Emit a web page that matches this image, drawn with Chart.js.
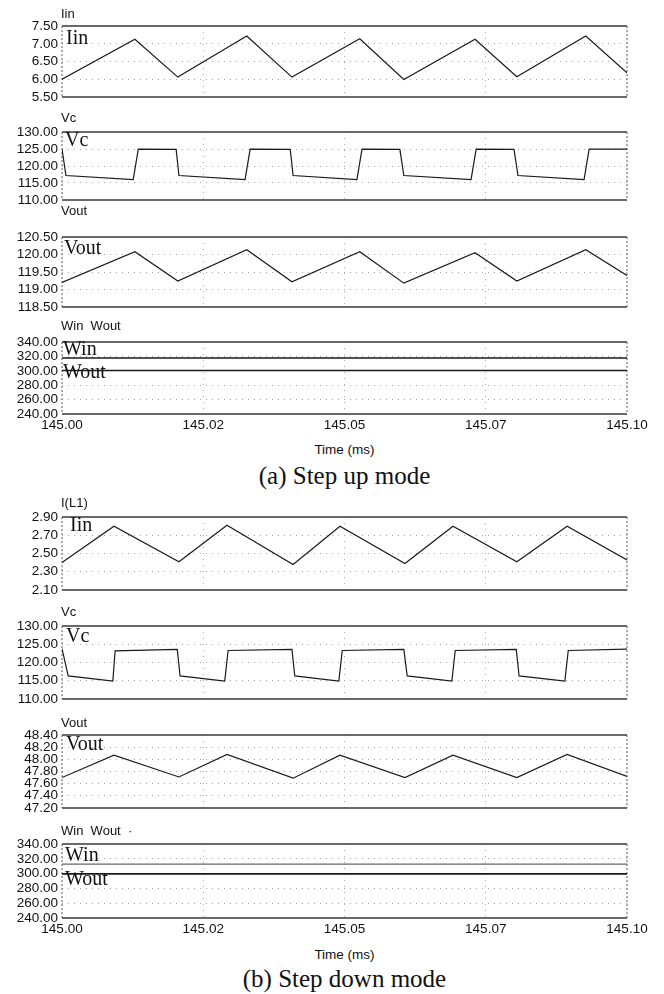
<!DOCTYPE html>
<html>
<head>
<meta charset="utf-8">
<script src="https://cdn.jsdelivr.net/npm/chart.js@4"></script>
<style>
  body { margin: 0; background: #fff; }
  #page { position: relative; width: 664px; height: 994px; overflow: hidden; }
  canvas { position: absolute; left: 0; }
  .name { position: absolute; left: 61px; font: 13px "Liberation Sans", Arial, sans-serif; line-height: 1; color: #111; white-space: pre; }
  .inner { position: absolute; font: 20px "Liberation Serif", "Times New Roman", serif; line-height: 1; color: #111; }
  .time { position: absolute; left: 62px; width: 565px; text-align: center; font: 13.5px "Liberation Sans", Arial, sans-serif; line-height: 1; color: #111; }
  .caption { position: absolute; left: 62px; width: 565px; text-align: center; font: 25px "Liberation Serif", "Times New Roman", serif; line-height: 1; color: #111; }
</style>
</head>
<body>
<div id="page">
  <canvas id="upIinChart"></canvas>
  <canvas id="upVcChart"></canvas>
  <canvas id="upVoutChart"></canvas>
  <canvas id="upPowerChart"></canvas>
  <canvas id="downIinChart"></canvas>
  <canvas id="downVcChart"></canvas>
  <canvas id="downVoutChart"></canvas>
  <canvas id="downPowerChart"></canvas>

  <div class="name" style="top:7px">Iin</div>
  <div class="name" style="top:111px">Vc</div>
  <div class="name" style="top:204px">Vout</div>
  <div class="name" style="top:319px">Win  Wout</div>
  <div class="inner" style="left:66px;top:27px">Iin</div>
  <div class="inner" style="left:65px;top:129px">Vc</div>
  <div class="inner" style="left:64px;top:237px">Vout</div>
  <div class="inner" style="left:63px;top:338px">Win</div>
  <div class="inner" style="left:63px;top:361px">Wout</div>
  <div class="time" style="top:443px">Time (ms)</div>
  <div class="caption" style="top:463px">(a) Step up mode</div>

  <div class="name" style="top:496px">I(L1)</div>
  <div class="name" style="top:605px">Vc</div>
  <div class="name" style="top:716px">Vout</div>
  <div class="name" style="top:824px">Win  Wout  ·</div>
  <div class="inner" style="left:70px;top:514px">Iin</div>
  <div class="inner" style="left:66px;top:625px">Vc</div>
  <div class="inner" style="left:66px;top:733px">Vout</div>
  <div class="inner" style="left:65px;top:844px">Win</div>
  <div class="inner" style="left:65px;top:868px">Wout</div>
  <div class="time" style="top:948px">Time (ms)</div>
  <div class="caption" style="top:966px">(b) Step down mode</div>
</div>

<script>
// x axis
const timeTicks = [145.0, 145.025, 145.05, 145.075, 145.1];
const timeTickLabels = ["145.00", "145.02", "145.05", "145.07", "145.10"];

// y axis ticks
const iinUpTicks = [5.5, 6.0, 6.5, 7.0, 7.5];
const vcTicks = [110, 115, 120, 125, 130];
const voutUpTicks = [118.5, 119.0, 119.5, 120.0, 120.5];
const powerTicks = [240, 260, 280, 300, 320, 340];
const iinDownTicks = [2.1, 2.3, 2.5, 2.7, 2.9];
const voutDownTicks = [47.2, 47.4, 47.6, 47.8, 48.0, 48.2, 48.4];

// (a) step up mode
const upRampTime = [145.0, 145.0129, 145.0205, 145.0327, 145.0407, 145.0527, 145.0605, 145.0731, 145.0805, 145.0927, 145.1];
const upIin = [6.00, 7.13, 6.06, 7.22, 6.06, 7.14, 5.99, 7.13, 6.07, 7.22, 6.18];
const upVout = [119.20, 120.08, 119.24, 120.14, 119.22, 120.08, 119.18, 120.05, 119.24, 120.14, 119.40];
const upVcTime = [145.0, 145.0007, 145.0126, 145.0135, 145.0202, 145.0207, 145.0324, 145.0333, 145.0404, 145.0409,
  145.0522, 145.0531, 145.0598, 145.0605, 145.0724, 145.0733, 145.08, 145.0807, 145.0924, 145.0933, 145.1];
const upVc = [125.0, 117.2, 116.0, 125.0, 124.9, 117.2, 116.0, 125.0, 124.9, 117.2,
  116.0, 125.0, 124.9, 117.2, 116.0, 125.0, 124.9, 117.2, 116.0, 125.0, 125.0];
const upPowerTime = [145.0, 145.1];
const upWin = [318, 318];
const upWout = [300.5, 300.5];

// (b) step down mode
const downRampTime = [145.0, 145.0092, 145.0207, 145.0292, 145.0409, 145.0492, 145.0607, 145.0692, 145.0805, 145.0894, 145.1];
const downIin = [2.40, 2.80, 2.41, 2.81, 2.38, 2.80, 2.39, 2.80, 2.41, 2.80, 2.43];
const downVout = [47.70, 48.07, 47.71, 48.08, 47.69, 48.07, 47.70, 48.07, 47.70, 48.08, 47.72];
const downVcTime = [145.0, 145.0011, 145.009, 145.0094, 145.0204, 145.0209, 145.0288, 145.0294, 145.0407, 145.0412,
  145.049, 145.0496, 145.0605, 145.0611, 145.069, 145.0696, 145.0804, 145.0809, 145.089, 145.0896, 145.1];
const downVc = [123.8, 116.3, 114.9, 123.2, 123.6, 116.3, 114.9, 123.3, 123.6, 116.3,
  114.9, 123.3, 123.6, 116.3, 114.9, 123.3, 123.6, 116.3, 114.9, 123.3, 123.7];
const downPowerTime = [145.0, 145.1];
const downWin = [313, 313];
const downWout = [299.6, 299.6];

const PLOT_LEFT = 62;
const PLOT_RIGHT = 627;
const PAD = 10;
const X_AXIS_HEIGHT = 22;
const TICK_FONT = { family: "'Liberation Sans', Arial, sans-serif", size: 13.5 };

// panel frame: solid top/bottom, dotted sides
const framePlugin = {
  id: "frame",
  beforeDatasetsDraw(chart) {
    const { ctx, chartArea: a } = chart;
    ctx.save();
    ctx.strokeStyle = "#3a3a3a";
    ctx.lineWidth = 1.5;
    ctx.beginPath();
    ctx.moveTo(a.left, a.top);
    ctx.lineTo(a.right, a.top);
    ctx.moveTo(a.left, a.bottom);
    ctx.lineTo(a.right, a.bottom);
    ctx.stroke();
    ctx.lineWidth = 1;
    ctx.strokeStyle = "#555";
    ctx.setLineDash([2, 2]);
    ctx.beginPath();
    ctx.moveTo(a.left, a.top);
    ctx.lineTo(a.left, a.bottom);
    ctx.moveTo(a.right, a.top);
    ctx.lineTo(a.right, a.bottom);
    ctx.stroke();
    ctx.restore();
  },
};

const toPoints = (xs, ys) => xs.map((x, i) => ({ x, y: ys[i] }));

const makeSeries = (xs, ys, color = "#1a1a1a", width = 1.2) => ({
  data: toPoints(xs, ys),
  borderColor: color,
  borderWidth: width,
  pointRadius: 0,
  tension: 0,
  fill: false,
});

const innerGrid = (ticks) => (ctx) =>
  ctx.index === 0 || ctx.index === ticks.length - 1 ? "rgba(0,0,0,0)" : "#a8a8a8";

const makePanel = (id, top, bottom, datasets, yTicks, showTime) => {
  const canvas = document.getElementById(id);
  const height = bottom - top + PAD + (showTime ? X_AXIS_HEIGHT : PAD);
  canvas.width = 664;
  canvas.height = height;
  canvas.style.top = `${top - PAD}px`;

  return new Chart(canvas, {
    type: "line",
    data: { datasets },
    plugins: [framePlugin],
    options: {
      responsive: false,
      animation: false,
      devicePixelRatio: 1,
      layout: { padding: { top: PAD, bottom: showTime ? 0 : PAD, left: 0, right: 664 - PLOT_RIGHT } },
      plugins: { legend: { display: false }, tooltip: { enabled: false } },
      scales: {
        x: {
          type: "linear",
          min: timeTicks[0],
          max: timeTicks[timeTicks.length - 1],
          afterBuildTicks: (scale) => {
            scale.ticks = timeTicks.map((value) => ({ value }));
          },
          afterFit: (scale) => {
            scale.height = showTime ? X_AXIS_HEIGHT : 0;
          },
          ticks: {
            display: showTime,
            autoSkip: false,
            maxRotation: 0,
            padding: 3,
            color: "#111",
            font: TICK_FONT,
            callback: (value, index) => timeTickLabels[index],
          },
          grid: { drawTicks: false, color: innerGrid(timeTicks), lineWidth: 1 },
          border: { display: false, dash: [1, 5] },
        },
        y: {
          min: yTicks[0],
          max: yTicks[yTicks.length - 1],
          afterBuildTicks: (scale) => {
            scale.ticks = yTicks.map((value) => ({ value }));
          },
          afterFit: (scale) => {
            scale.width = PLOT_LEFT;
          },
          ticks: {
            autoSkip: false,
            padding: 4,
            color: "#111",
            font: TICK_FONT,
            callback: (value) => Number(value).toFixed(2),
          },
          grid: { drawTicks: false, color: innerGrid(yTicks), lineWidth: 1 },
          border: { display: false, dash: [1, 5] },
        },
      },
    },
  });
};

makePanel("upIinChart", 24, 99, [makeSeries(upRampTime, upIin)], iinUpTicks, false);
makePanel("upVcChart", 130, 202, [makeSeries(upVcTime, upVc)], vcTicks, false);
makePanel("upVoutChart", 235, 309, [makeSeries(upRampTime, upVout)], voutUpTicks, false);
makePanel("upPowerChart", 340, 414, [
  makeSeries(upPowerTime, upWin, "#1a1a1a", 1.5),
  makeSeries(upPowerTime, upWout, "#1a1a1a", 1.6),
], powerTicks, true);

makePanel("downIinChart", 515, 592, [makeSeries(downRampTime, downIin)], iinDownTicks, false);
makePanel("downVcChart", 624, 701, [makeSeries(downVcTime, downVc)], vcTicks, false);
makePanel("downVoutChart", 733, 810, [makeSeries(downRampTime, downVout)], voutDownTicks, false);
makePanel("downPowerChart", 842, 918, [
  makeSeries(downPowerTime, downWin, "#666", 1.3),
  makeSeries(downPowerTime, downWout, "#1a1a1a", 1.8),
], powerTicks, true);
</script>
</body>
</html>
